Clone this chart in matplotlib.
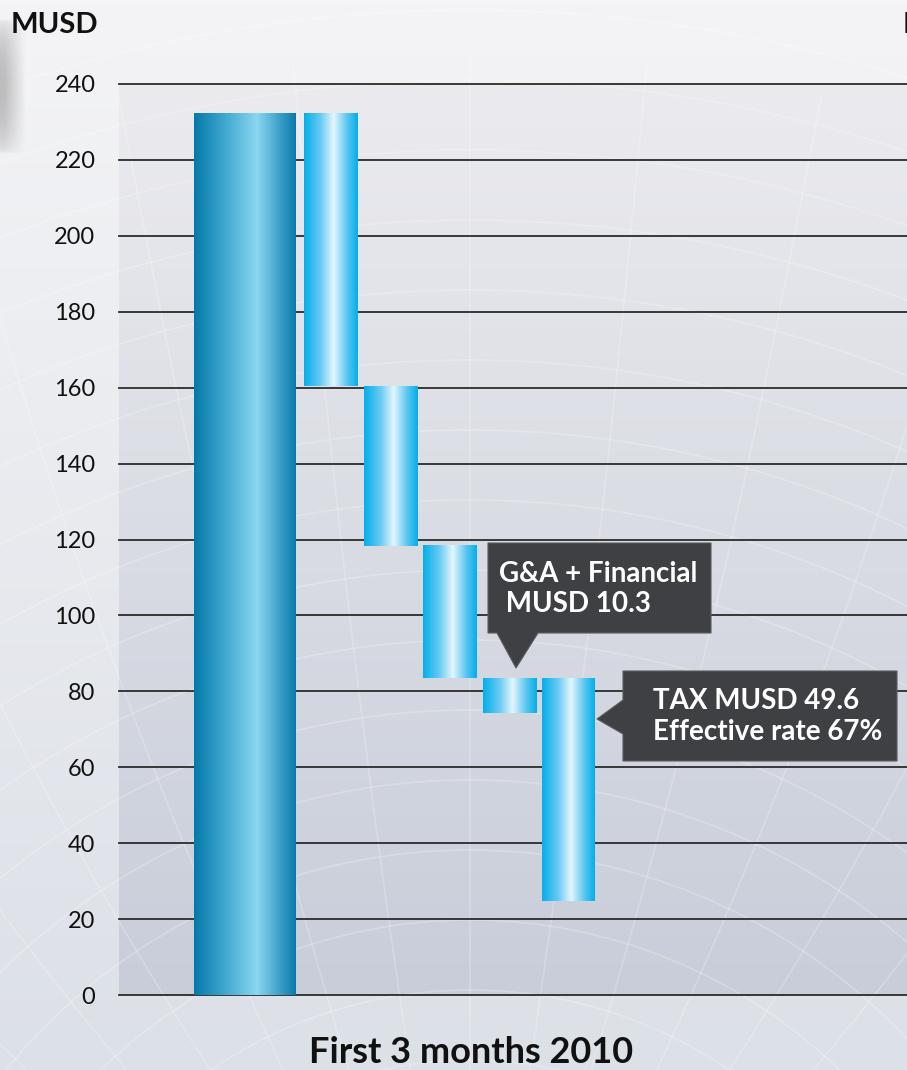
import numpy as np
import matplotlib.pyplot as plt
from matplotlib.patches import Polygon, Circle
from matplotlib.colors import LinearSegmentedColormap, to_rgb

# waterfall data (MUSD)
steps = ["Revenue", "Cost 1", "Cost 2", "Cost 3", "G&A + Financial", "Tax"]
bar_tops = [232.1, 232.1, 160.4, 118.3, 83.5, 83.5]
bar_bottoms = [0.0, 160.4, 118.3, 83.5, 74.3, 24.8]
yticks = list(range(0, 241, 20))
unit_label = "MUSD"
period_label = "First 3 months 2010"
callout_ga = "G&A + Financial\n MUSD 10.3"
callout_tax = "TAX MUSD 49.6\nEffective rate 67%"

W, H = 907, 1070
plt.rcParams['font.family'] = ['Lato', 'DejaVu Sans']

fig = plt.figure(figsize=(W / 100, H / 100), dpi=100)

# ---- background (pixel coords) ----
bg = fig.add_axes([0, 0, 1, 1], zorder=-5)
bg.set_xlim(0, W)
bg.set_ylim(H, 0)
bg.axis('off')

def vgrad(c_top, c_bot, n=256):
    a, b = np.array(to_rgb(c_top)), np.array(to_rgb(c_bot))
    t = np.linspace(0, 1, n)[:, None]
    return (a * (1 - t) + b * t)[:, None, :]

bg.imshow(vgrad('#f4f4f6', '#dce0e7'), extent=[0, W, H, 0], aspect='auto', zorder=0)
# plot area panel
PX0, PX1, PY0, PY1 = 119, 907, 84, 995
bg.imshow(vgrad('#ebebef', '#c8cdd9'), extent=[PX0, PX1, PY1, PY0], aspect='auto', zorder=1)

# faint globe lines
for r in np.arange(250, 1500, 70):
    bg.add_patch(Circle((470, 1450), r, fill=False, ec='white', lw=1.3, alpha=0.22, zorder=2))
for ang in np.linspace(-80, 80, 23):
    xs = np.linspace(0, 1, 50)
    xx = 470 + np.sin(np.radians(ang)) * 1400 * xs + ang * 2 * np.sin(np.pi * xs)
    yy = 1450 - np.cos(np.radians(ang)) * 1400 * xs
    bg.plot(xx, yy, color='white', lw=1.2, alpha=0.22, zorder=2)

# soft shadow at top left
sh = np.zeros((60, 40, 4))
sh[..., :3] = to_rgb('#9a9a9a')
fx = np.clip(1.2 - np.linspace(0, 1, 40) * 1.4, 0, 1)[None, :]
fy = np.sin(np.linspace(0, np.pi, 60))[:, None] ** 0.5
sh[..., 3] = 0.6 * fx * fy
bg.imshow(sh, extent=[0, 30, 155, 18], aspect='auto', zorder=2, interpolation='bilinear')

# ---- main axes ----
ax = fig.add_axes([PX0 / W, (H - PY1) / H, (PX1 - PX0) / W, (PY1 - PY0) / H])
ax.patch.set_visible(False)
PXU = 59.6  # pixels per x unit
for s in ax.spines.values():
    s.set_visible(False)
ax.set_xticks([])
ax.set_yticks(yticks)
ax.tick_params(axis='y', length=0, pad=17, labelsize=17, labelcolor='#111111')

for t in yticks:
    ax.axhline(t, color='#2b2b2b', lw=1.3, zorder=1, clip_on=False)

xpos = [(245 - PX0) / PXU] + [(330.5 - PX0) / PXU + i for i in range(len(steps) - 1)]
widths = [102 / PXU] + [53 / PXU] * (len(steps) - 1)
heights = [t - b for t, b in zip(bar_tops, bar_bottoms)]
bars = ax.bar(xpos, heights, width=widths, bottom=bar_bottoms,
              color='none', edgecolor='none', zorder=3)

cm_dark = LinearSegmentedColormap.from_list('dk', [(0, '#0479a9'), (0.35, '#4aafd4'),
                                                   (0.62, '#8ad7f1'), (0.85, '#3b9dc6'),
                                                   (1, '#0a7aa8')])
cm_light = LinearSegmentedColormap.from_list('lt', [(0, '#04aeea'), (0.3, '#66c9f2'),
                                                    (0.55, '#e3f6fd'), (0.8, '#5cc6f0'),
                                                    (1, '#03aeea')])
grad = np.linspace(0, 1, 256)[None, :]
for i, b in enumerate(bars):
    x0, y0, w, h = b.get_x(), b.get_y(), b.get_width(), b.get_height()
    ax.imshow(grad, extent=[x0, x0 + w, y0, y0 + h], aspect='auto',
              cmap=cm_dark if i == 0 else cm_light, zorder=3)
ax.set_xlim(0, (PX1 - PX0) / PXU)
ax.set_ylim(0, 240)

# ---- callouts (pixel positions converted to data) ----
def d(px, py):
    return ((px - PX0) / PXU, (PY1 - py) / (PY1 - PY0) * 240)

box_col = '#3f4043'
ga_poly = [d(488, 543), d(711, 543), d(711, 633), d(538, 633), d(516, 668),
           d(497, 633), d(488, 633)]
ax.add_patch(Polygon(ga_poly, closed=True, fc=box_col, ec='#5a5b5e', lw=0.8, zorder=5))
tax_poly = [d(623, 671), d(897, 671), d(897, 761), d(623, 761), d(623, 734),
            d(597, 719), d(623, 700)]
ax.add_patch(Polygon(tax_poly, closed=True, fc=box_col, ec='#5a5b5e', lw=0.8, zorder=5))

ax.text(*d(499, 561), callout_ga, color='white', fontsize=20, fontweight='bold',
        ha='left', va='top', linespacing=1.2, zorder=6)
ax.text(*d(653, 688), callout_tax, color='white', fontsize=20, fontweight='bold',
        ha='left', va='top', linespacing=1.22, zorder=6)

# ---- labels ----
fig.text(11 / W, 1 - 33 / H, unit_label, fontsize=21, fontweight='bold',
         ha='left', va='baseline', color='#111111')
fig.text(903 / W, 1 - 33 / H, unit_label, fontsize=21, fontweight='bold',
         ha='left', va='baseline', color='#111111')
fig.text(471 / W, 1 - 1063 / H, period_label, fontsize=26, fontweight='bold',
         ha='center', va='baseline', color='#111111')

fig.savefig('out.png', dpi=100)
